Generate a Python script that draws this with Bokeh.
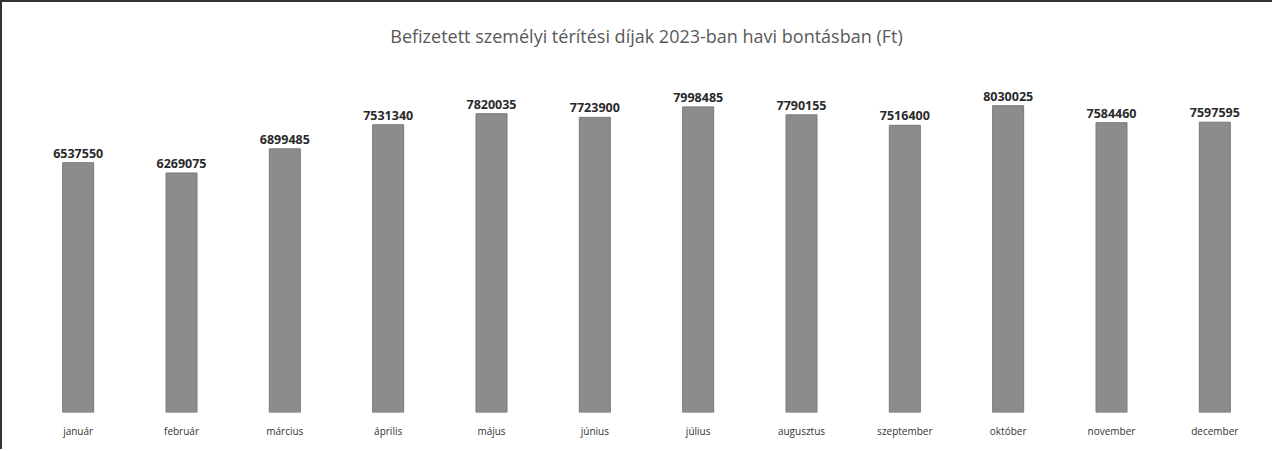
from bokeh.plotting import figure
from bokeh.models import ColumnDataSource, LabelSet, Range1d, FactorRange
from bokeh.core.properties import value
from bokeh.embed import file_html
from bokeh.resources import INLINE

months = ["január", "február", "március", "április", "május", "június",
          "július", "augusztus", "szeptember", "október", "november", "december"]
values = [6537550, 6269075, 6899485, 7531340, 7820035, 7723900,
          7998485, 7790155, 7516400, 8030025, 7584460, 7597595]
labels = [str(v) for v in values]
title_text = "Befizetett személyi térítési díjak 2023-ban havi bontásban (Ft)"

src = ColumnDataSource(dict(m=months, v=values, t=labels))

p = figure(width=1272, height=449, x_range=FactorRange(*months, range_padding=0),
           y_range=Range1d(0, 9160000), output_backend="svg", toolbar_location=None,
           min_border_left=24, min_border_right=8, min_border_top=60, min_border_bottom=39)
p.title.text = title_text
p.title.align = "center"
p.title.text_font = "Open Sans"
p.title.text_font_size = "18px"
p.title.text_font_style = "normal"
p.title.text_color = "#595959"
p.title.standoff = 30

p.vbar(x="m", top="v", width=0.3, source=src, fill_color="#8c8c8c",
       line_color="#7a7a7a", line_width=1)

p.add_layout(LabelSet(x="m", y="v", text="t", source=src, text_align="center",
                      text_baseline="bottom", y_offset=5, text_font=value("Open Sans"),
                      text_font_size="12.5px", text_font_style="bold", text_color="#2a2a2a"))

p.yaxis.visible = False
p.xaxis.axis_line_color = None
p.xaxis.major_tick_line_color = None
p.xaxis.minor_tick_line_color = None
p.xaxis.major_label_text_font = "Open Sans"
p.xaxis.major_label_text_font_size = "10px"
p.xaxis.major_label_text_color = "#333333"
p.xaxis.major_label_standoff = 5
p.xgrid.grid_line_color = None
p.ygrid.grid_line_color = None
p.outline_line_color = None
p.styles = {"border-left": "2px solid #333333", "border-top": "2px solid #333333"}

open("out.html", "w").write(file_html(p, INLINE))
